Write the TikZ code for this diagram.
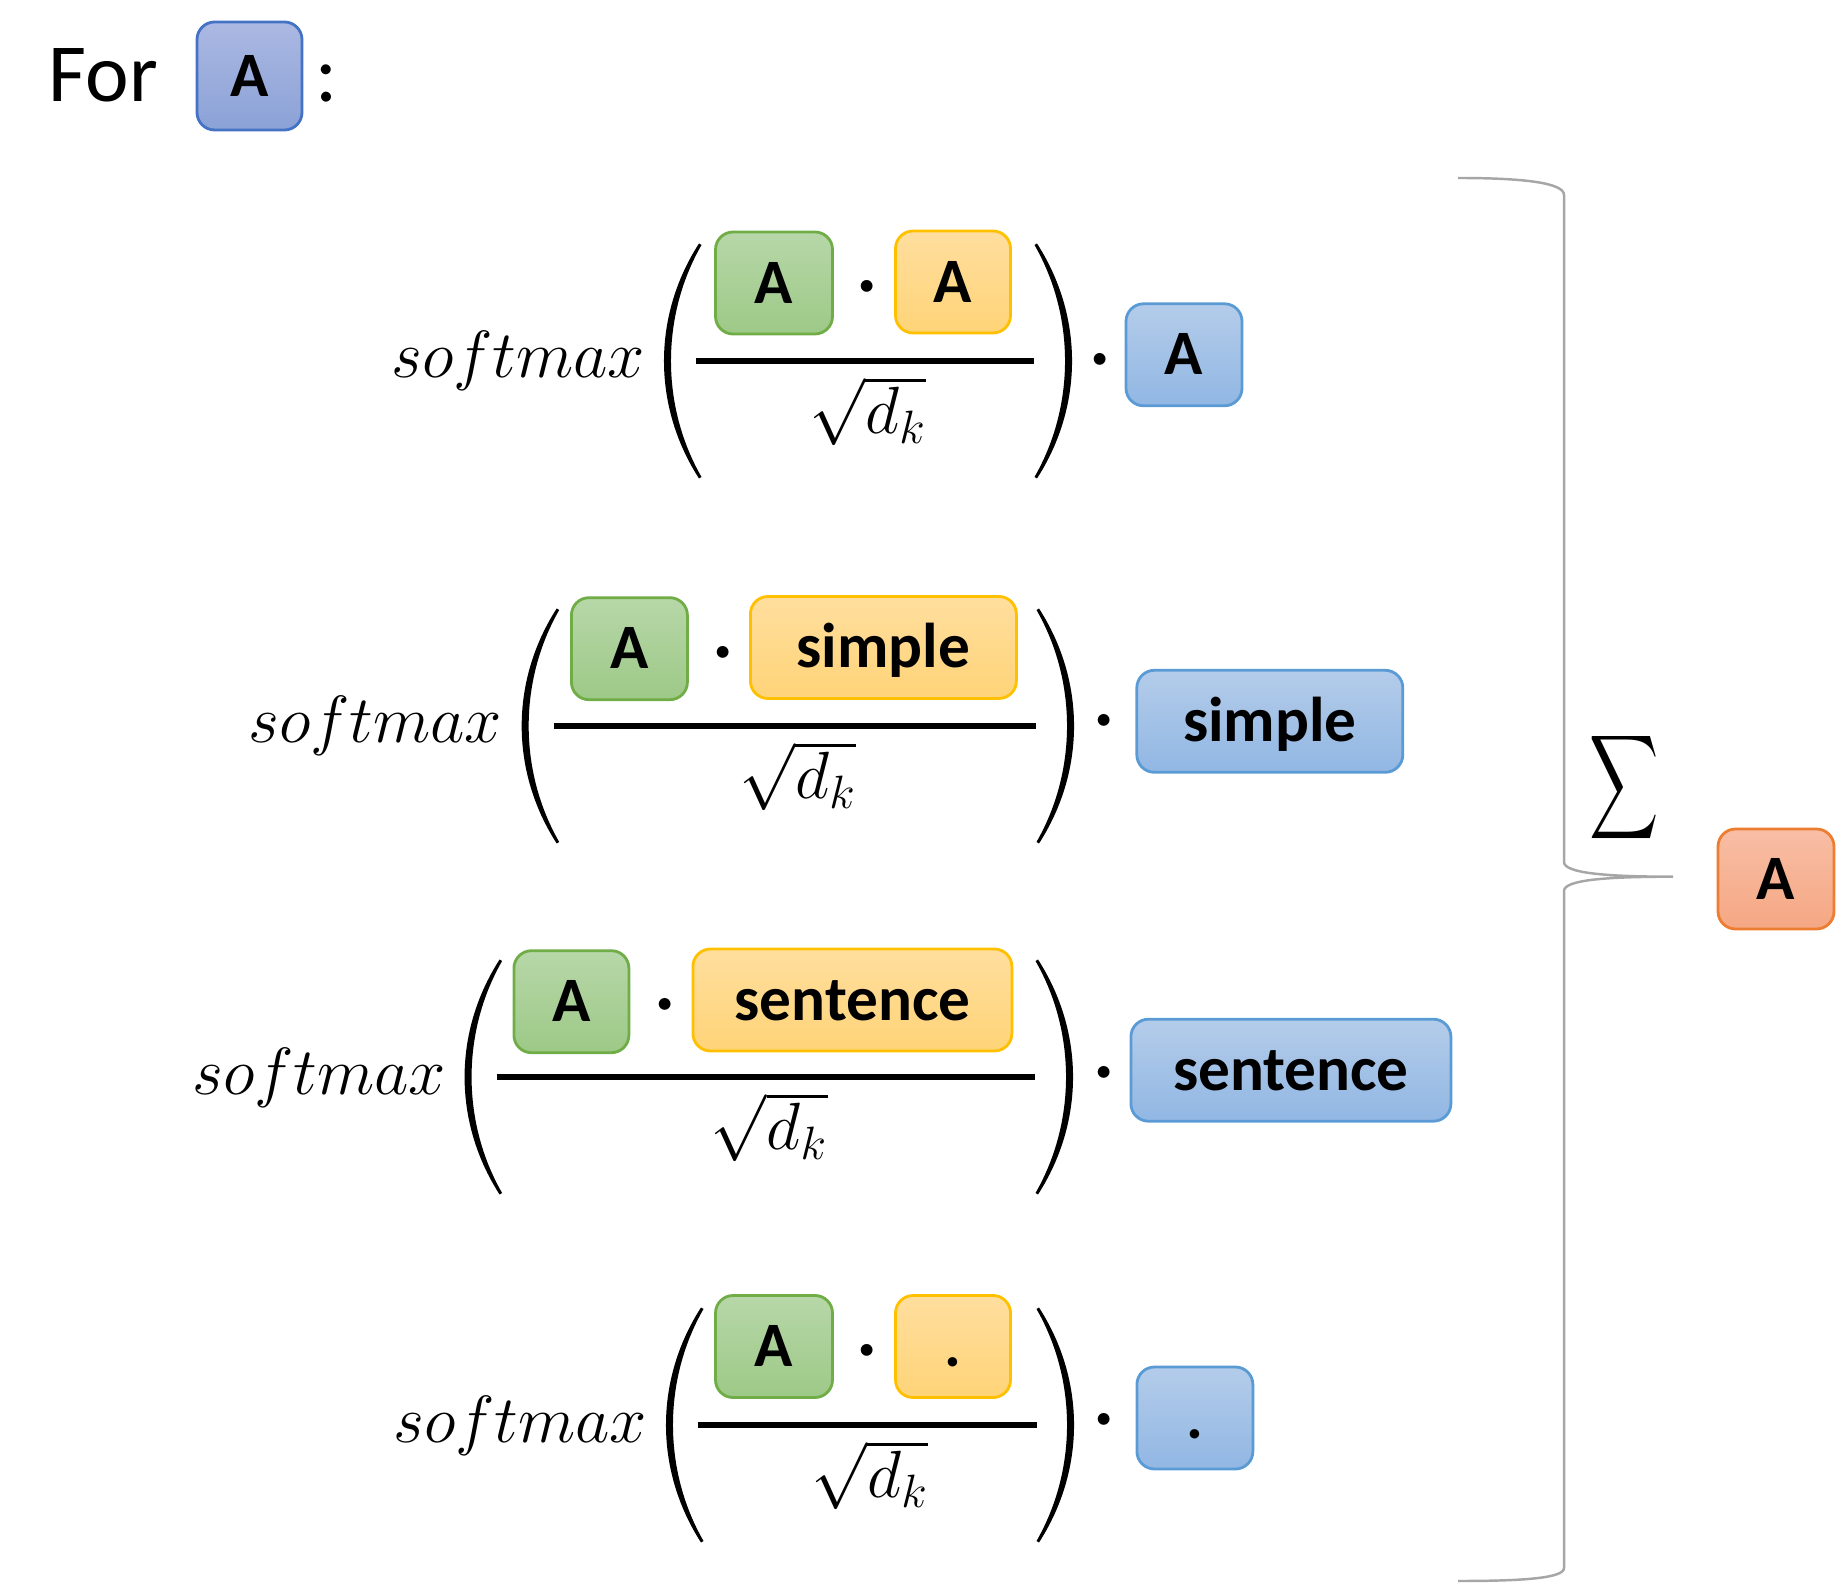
\RequirePackage{fix-cm}
\documentclass[tikz,border=0pt]{standalone}
\usepackage{amsmath}
\usepackage[no-math]{fontspec}
\setmainfont{Carlito}
\usepackage{xcolor}
\usepackage{tikz}
\usetikzlibrary{positioning}

\definecolor{headtop}{HTML}{ABB8E2}
\definecolor{headbot}{HTML}{8BA2D7}
\definecolor{headdraw}{HTML}{4472C4}
\definecolor{qtop}{HTML}{B7D7A8}
\definecolor{qbot}{HTML}{9DC987}
\definecolor{qdraw}{HTML}{70AD47}
\definecolor{ktop}{HTML}{FFDE9E}
\definecolor{kbot}{HTML}{FFD478}
\definecolor{kdraw}{HTML}{FFC000}
\definecolor{vtop}{HTML}{B4CCEA}
\definecolor{vbot}{HTML}{91B7E3}
\definecolor{vdraw}{HTML}{5B9BD5}
\definecolor{otop}{HTML}{F8BEA5}
\definecolor{obot}{HTML}{F5A783}
\definecolor{odraw}{HTML}{ED7D31}
\definecolor{bracegray}{HTML}{A6A6A6}

\tikzset{
  tok/.style={draw, line width=0.8pt, rounded corners=5pt, minimum height=1.02cm, inner sep=0pt,
    font=\bfseries\fontsize{18}{18}\selectfont, text height=11.4pt, text depth=0pt},
  qtok/.style={tok, draw=qdraw, top color=qtop, bottom color=qbot},
  ktok/.style={tok, draw=kdraw, top color=ktop, bottom color=kbot},
  vtok/.style={tok, draw=vdraw, top color=vtop, bottom color=vbot},
  title/.style={inner sep=0pt, font=\fontsize{23.5}{23.5}\selectfont, text height=14.8pt, text depth=0pt},
  mth/.style={inner sep=0pt, font=\fontsize{19}{19}\selectfont},
  opdot/.style={inner sep=0pt, anchor=base, font=\fontsize{32}{32}\selectfont},
  bar/.style={line width=1.5pt},
  brace/.style={draw=bracegray, line width=0.7pt},
  lpar/.pic={\fill (0,1.175) .. controls (-0.467,0.45) and (-0.467,-0.45) .. (0,-1.175)
    -- (0.025,-1.16) .. controls (-0.382,-0.45) and (-0.382,0.45) .. (0.025,1.16) -- cycle;},
  rpar/.pic={\fill (0,1.175) .. controls (0.467,0.45) and (0.467,-0.45) .. (0,-1.175)
    -- (-0.025,-1.16) .. controls (0.382,-0.45) and (0.382,0.45) .. (-0.025,1.16) -- cycle;}
}

\begin{document}
\begin{tikzpicture}
    \useasboundingbox (0,0) rectangle (18.36,-15.83);

    % heading
    \node[tok, draw=headdraw, top color=headtop, bottom color=headbot, minimum width=1.05cm, minimum height=1.08cm] (head) at (2.495,-0.76) {A};
    \node[title, left=0.37cm of head] (for) {For};
    \node[title, right=0.11cm of head] (colon) {:};

    % row 1
    \node[mth, anchor=base east] (sm1) at (6.46,-3.78) {$softmax$};
    \pic at (6.99,-3.61) {lpar};
    \node[qtok, minimum width=1.17cm] (q1) at (7.74,-2.83) {A};
    \node[opdot] (d1) at (8.676,-3.15) {$\cdot$};
    \node[ktok, minimum width=1.15cm] (k1) at (9.53,-2.82) {A};
    \draw[bar] (6.955,-3.61) -- (10.339,-3.61);
    \node[mth, anchor=north] (r1) at (8.68,-3.755) {$\sqrt{d_k}$};
    \pic at (10.37,-3.61) {rpar};
    \node[opdot] (e1) at (11.006,-3.875) {$\cdot$};
    \node[vtok, minimum width=1.16cm] (v1) at (11.84,-3.548) {A};

    % row 2
    \node[mth, anchor=base east] (sm2) at (5.03,-7.43) {$softmax$};
    \pic at (5.567,-7.26) {lpar};
    \node[qtok, minimum width=1.16cm] (q2) at (6.294,-6.487) {A};
    \node[opdot] (d2) at (7.236,-6.802) {$\cdot$};
    \node[ktok, minimum width=2.66cm] (k2) at (8.834,-6.475) {simple};
    \draw[bar] (5.538,-7.26) -- (10.362,-7.26);
    \node[mth, anchor=north] (r2) at (7.98,-7.405) {$\sqrt{d_k}$};
    \pic at (10.39,-7.26) {rpar};
    \node[opdot] (e2) at (11.042,-7.49) {$\cdot$};
    \node[vtok, minimum width=2.66cm] (v2) at (12.698,-7.213) {simple};

    % row 3
    \node[mth, anchor=base east] (sm3) at (4.47,-10.94) {$softmax$};
    \pic at (4.996,-10.77) {lpar};
    \node[qtok, minimum width=1.15cm] (q3) at (5.714,-10.017) {A};
    \node[opdot] (d3) at (6.651,-10.326) {$\cdot$};
    \node[ktok, minimum width=3.19cm] (k3) at (8.524,-10.0) {sentence};
    \draw[bar] (4.965,-10.77) -- (10.351,-10.77);
    \node[mth, anchor=north] (r3) at (7.693,-10.915) {$\sqrt{d_k}$};
    \pic at (10.38,-10.77) {rpar};
    \node[opdot] (e3) at (11.042,-11.005) {$\cdot$};
    \node[vtok, minimum width=3.2cm] (v3) at (12.909,-10.702) {sentence};

    % row 4
    \node[mth, anchor=base east] (sm4) at (6.48,-14.42) {$softmax$};
    \pic at (7.01,-14.25) {lpar};
    \node[qtok, minimum width=1.17cm] (q4) at (7.74,-13.465) {A};
    \node[opdot] (d4) at (8.676,-13.78) {$\cdot$};
    \node[ktok, minimum width=1.15cm] (k4) at (9.53,-13.465) {.};
    \draw[bar] (6.979,-14.25) -- (10.374,-14.25);
    \node[mth, anchor=north] (r4) at (8.70,-14.395) {$\sqrt{d_k}$};
    \pic at (10.39,-14.25) {rpar};
    \node[opdot] (e4) at (11.042,-14.47) {$\cdot$};
    \node[vtok, minimum width=1.16cm] (v4) at (11.949,-14.18) {.};

    % sum over the rows
    \coordinate (tip) at (16.73,-8.767);
    \draw[brace] (14.58,-1.78) .. controls (15.25,-1.78) and (15.64,-1.83) .. (15.64,-1.95)
        -- (15.64,-8.62) .. controls (15.64,-8.73) and (16.05,-8.767) .. (tip)
        .. controls (16.05,-8.767) and (15.64,-8.80) .. (15.64,-8.91)
        -- (15.64,-15.68) .. controls (15.64,-15.78) and (15.25,-15.81) .. (14.58,-15.81);
    \node[inner sep=0pt, font=\fontsize{21}{21}\selectfont] (sum) at (16.24,-7.874) {\scalebox{0.66}[1]{$\displaystyle\sum$}};
    \node[tok, draw=odraw, top color=otop, bottom color=obot, minimum width=1.16cm, minimum height=1.0cm] (out) at (17.76,-8.79) {A};
\end{tikzpicture}
\end{document}
